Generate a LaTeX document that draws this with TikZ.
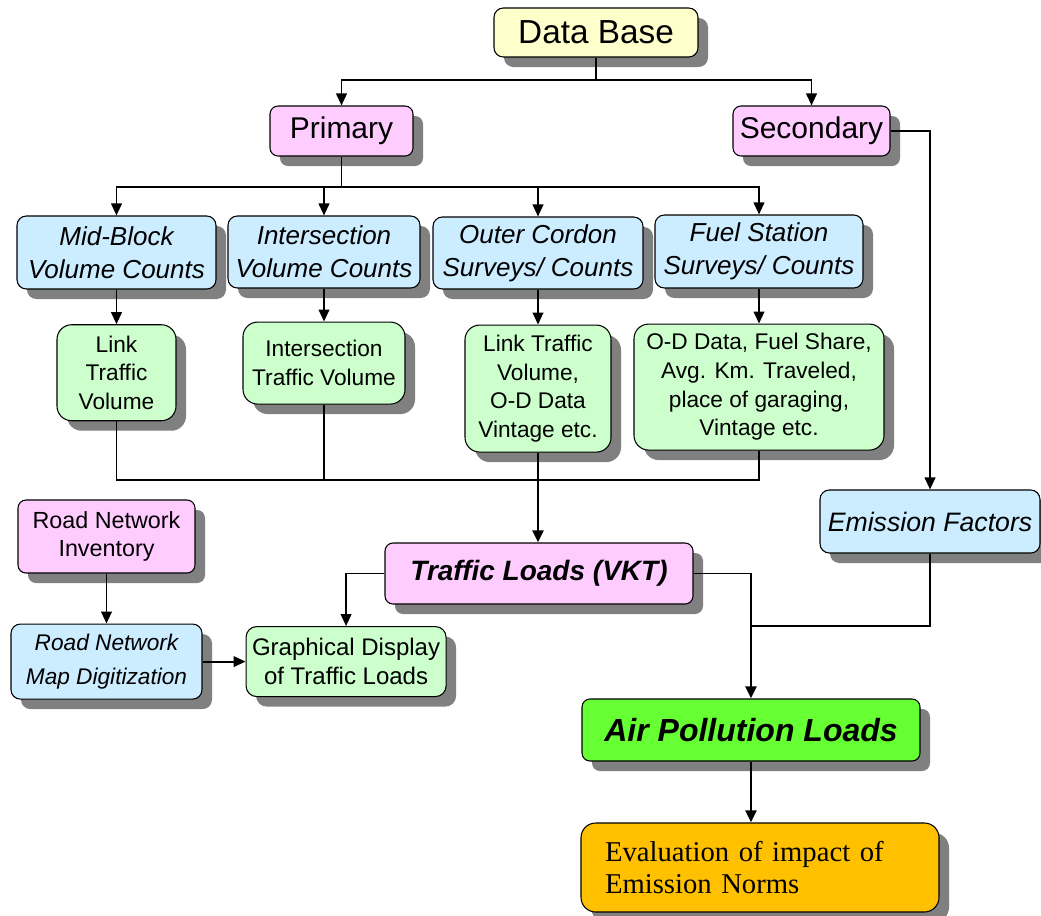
\documentclass[tikz,border=0pt]{standalone}
\usepackage{fontspec}
\setmainfont{Liberation Sans}
\newfontfamily\evalserif{Liberation Serif}
\usepackage{xcolor}
\usepackage{tikz}
\usetikzlibrary{positioning, arrows.meta, shadows}
\definecolor{dbYellow}{RGB}{255, 255, 204}
\definecolor{srcPink}{RGB}{255, 204, 255}
\definecolor{surveyBlue}{RGB}{204, 236, 255}
\definecolor{dataGreen}{RGB}{204, 255, 204}
\definecolor{airGreen}{RGB}{102, 255, 51}
\definecolor{evalOrange}{RGB}{255, 192, 0}

\begin{document}
\begin{tikzpicture}[
                x=0.75pt, y=-0.75pt,
                box/.style={rectangle, draw=black, line width=0.8pt, rounded corners=7pt, align=center, inner sep=2pt,
                  drop shadow={shadow xshift=7.5pt, shadow yshift=-7.5pt, fill=black!50, opacity=1}},
                dbbox/.style={box, fill=dbYellow, font=\fontsize{25}{30}\selectfont},
                srcbox/.style={box, fill=srcPink, rounded corners=6pt, font=\fontsize{22.5}{27}\selectfont},
                survey/.style={box, fill=surveyBlue, font=\fontsize{19.5}{24.5}\selectfont\itshape},
                result/.style={box, fill=dataGreen, rounded corners=11pt, font=\fontsize{17}{21.5}\selectfont},
                loadbox/.style={box, rounded corners=6pt, font=\bfseries\itshape},
                wire/.style={line width=1.4pt},
                trunk/.style={line width=2.2pt},
                arrow/.style={wire, -{Triangle[length=9pt, width=8pt]}}
            ]
                \useasboundingbox (0,0) rectangle (1041,915);

                % --- SOURCES ---
                \node[dbbox, minimum width=153pt, minimum height=36.75pt] (db) at (596,32.5) {Data Base};
                \node[srcbox, minimum width=107.25pt, minimum height=37.5pt] (prim) at (341.5,131) {Primary};
                \node[srcbox, minimum width=117.75pt, minimum height=37.5pt] (sec) at (811.5,131) {Secondary};

                % --- SURVEYS ---
                \node[survey, minimum width=149.25pt, minimum height=54.75pt] (mid) at (116.5,252.5) {Mid-Block\\Volume Counts};
                \node[survey, minimum width=144pt, minimum height=54pt] (inter) at (324,252) {Intersection\\Volume Counts};
                \node[survey, minimum width=157.5pt, minimum height=54pt] (outer) at (538,253) {Outer Cordon\\Surveys/ Counts};
                \node[survey, minimum width=156pt, minimum height=54.75pt] (fuel) at (759,251.5) {Fuel Station\\Surveys/ Counts};

                % --- SURVEY RESULTS ---
                \node[result, minimum width=89.25pt, minimum height=72pt, below=26pt of mid] (linkvol) {Link\\Traffic\\Volume};
                \node[result, minimum width=121.5pt, minimum height=61.5pt, below=24.75pt of inter] (intvol) {Intersection\\Traffic Volume};
                \node[result, minimum width=109.5pt, minimum height=95.25pt, below=26.25pt of outer] (outvol) {Link Traffic\\Volume,\\O-D Data\\Vintage etc.};
                \node[result, minimum width=187.5pt, minimum height=94.5pt, below=26.25pt of fuel] (fueldata) {O-D Data, Fuel Share,\\Avg. Km. Traveled,\\place of garaging,\\Vintage etc.};

                % --- LOADS ---
                \node[survey, minimum width=165pt, minimum height=47.25pt, font=\fontsize{20}{24}\selectfont\itshape] (emis) at (930,521.5) {Emission Factors};
                \node[loadbox, fill=srcPink, minimum width=231pt, minimum height=45.75pt, font=\fontsize{21}{25}\selectfont\bfseries\itshape] (vkt) at (539,573.5) {Traffic Loads (VKT)};
                \node[loadbox, fill=airGreen, minimum width=253.5pt, minimum height=46.5pt, font=\fontsize{24}{29}\selectfont\bfseries\itshape] (air) at (751,730) {Air Pollution Loads};
                \node[box, fill=evalOrange, rounded corners=11pt, align=left, inner xsep=18pt, text width=232.5pt, minimum height=66.75pt,
                  font=\evalserif\fontsize{21.5}{24.5}\selectfont] (eval) at (760,867.5) {Evaluation of impact of\\Emission Norms};

                % --- ROAD NETWORK ---
                \node[srcbox, minimum width=132.75pt, minimum height=54.75pt, font=\fontsize{17.5}{21.5}\selectfont] (road) at (106.5,536.5) {Road Network\\Inventory};
                \node[survey, minimum width=143.25pt, minimum height=56.25pt, below=37.5pt of road, font=\fontsize{17}{25}\selectfont\itshape] (map) {Road Network\\Map Digitization};
                \node[result, minimum width=150pt, minimum height=52.5pt, right=32.25pt of map, rounded corners=8pt, font=\fontsize{18}{22}\selectfont] (graph) {Graphical Display\\of Traffic Loads};

                % Arrows from the data base
                \draw[wire] (db.south) -- (db.south |- 0,80) coordinate (dbj);
                \draw[arrow] (dbj) -| (prim.north);
                \draw[arrow] (dbj) -| (sec.north);

                % Arrows from primary
                \draw[wire] (prim.south) -- (prim.south |- 0,187) coordinate (pj);
                \foreach \n in {mid, inter, outer, fuel}
                  \draw[arrow] (pj) -| (\n.north);
                \foreach \a/\b in {mid/linkvol, inter/intvol, outer/outvol, fuel/fueldata}
                  \draw[arrow] (\a) -- (\b);

                % Results into traffic loads
                \coordinate (gj) at (outvol.south |- 0,480);
                \draw[wire] (linkvol.south) |- (gj);
                \draw[wire] (fueldata.south) |- (gj);
                \draw[wire] (intvol.south) -- (intvol.south |- gj);
                \draw[trunk] (intvol.south |- gj) -- (gj);
                \draw[trunk] (outvol.south) -- (gj);
                \draw[arrow, trunk] (gj) -- (gj |- vkt.north);

                % Secondary to emission factors
                \draw[arrow] (sec.east) -| (emis.north);

                % Loads
                \coordinate (aj) at (air.north |- 0,626);
                \draw[arrow] (vkt.west) -| (graph.north);
                \draw[wire] (vkt.east) -| (aj);
                \draw[wire] (emis.south) |- (aj);
                \draw[arrow, trunk] (aj) -- (air.north);
                \draw[arrow, trunk] (air.south) -- (air.south |- eval.north);

                % Road network
                \draw[arrow] (road) -- (map);
                \draw[arrow] (map) -- (graph);

\end{tikzpicture}
\end{document}
